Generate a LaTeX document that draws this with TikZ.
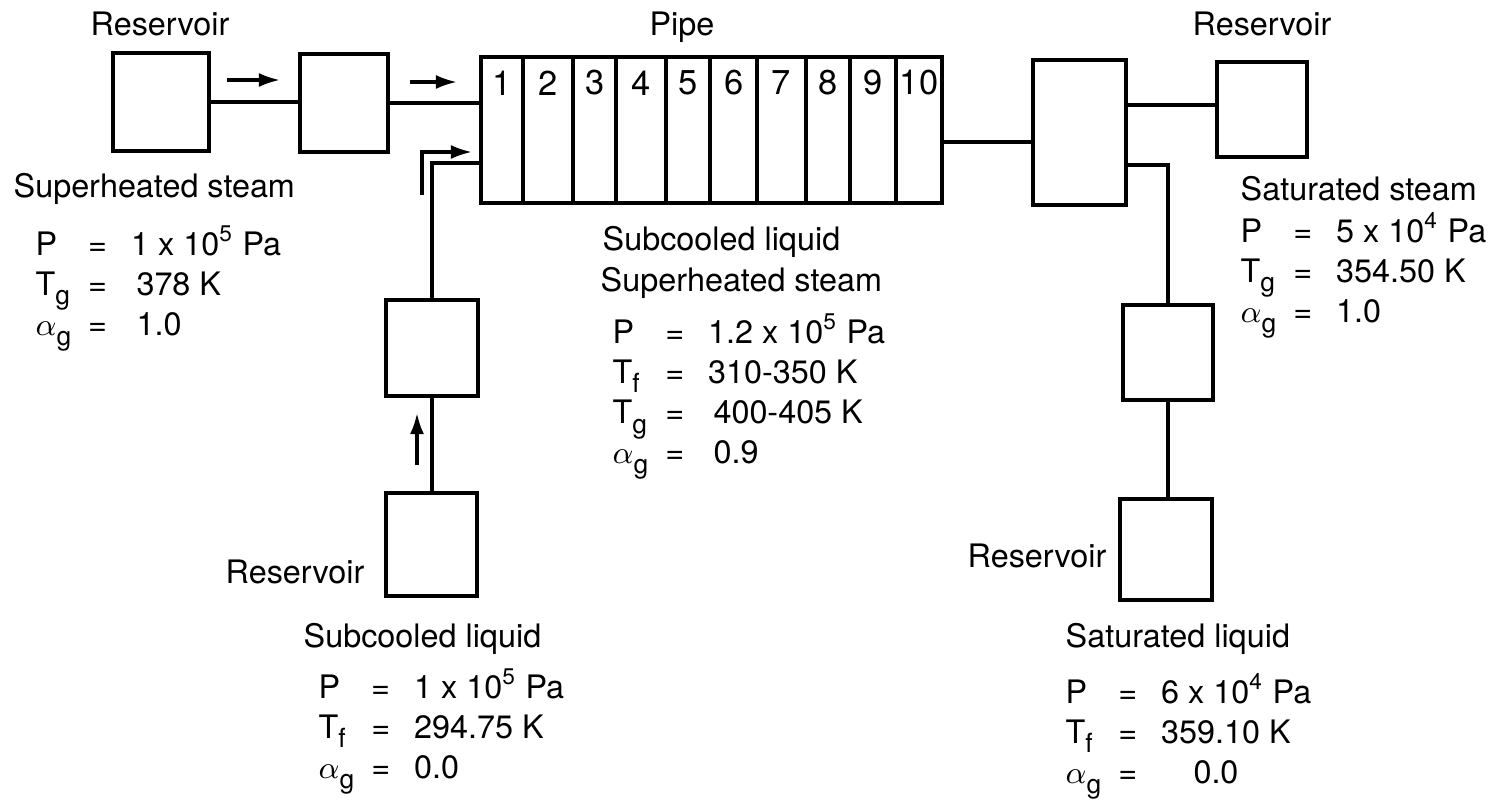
\documentclass[tikz,border=0pt]{standalone}
\usepackage{fontspec}
\setmainfont{TeX Gyre Heros}
\usetikzlibrary{arrows.meta, positioning, calc}
\newcommand{\lowsub}[1]{\smash{\raisebox{-2.8pt}{\fontsize{7.5}{8}\selectfont #1}}}
\newcommand{\ag}{$\alpha$\lowsub{g}}
\newcommand{\statetab}[1]{\begin{tabular}[t]{@{}l@{\hspace{0.17cm}}c@{\hspace{0.24cm}}l@{}}#1\end{tabular}}

\begin{document}
\begin{tikzpicture}[x=0.01cm, y=-0.01cm,
    vessel/.style={draw, line width=1.1pt, inner sep=0pt},
    link/.style={line width=0.9pt},
    wall/.style={line width=0.9pt},
    flow/.style={line width=0.9pt, -{Latex[length=6pt,width=4pt]}},
    txt/.style={inner sep=0pt, font=\fontsize{9.2}{11.4}\selectfont},
    cellnum/.style={inner sep=0pt, font=\fontsize{9.8}{11}\selectfont}]
  \useasboundingbox (0,0) rectangle (1494,803);
  % Volumes and reservoirs
  \node[vessel, minimum width=0.96cm, minimum height=0.98cm] (rsvA) at (161,102) {};
  \node[vessel, minimum width=0.88cm, minimum height=0.98cm] (volA) at (344,103) {};
  \node[vessel, minimum width=4.61cm, minimum height=1.46cm] (pipe) at (711.5,130) {};
  \node[vessel, minimum width=0.93cm, minimum height=1.45cm] (volB) at (1079.5,132.5) {};
  \node[vessel, minimum width=0.90cm, minimum height=0.95cm] (rsvB) at (1262,109.5) {};
  \node[vessel, minimum width=0.90cm, minimum height=0.95cm] (volC) at (1168,352.5) {};
  \node[vessel, minimum width=0.92cm, minimum height=1.01cm] (rsvD) at (1166,549.5) {};
  \node[vessel, minimum width=0.92cm, minimum height=0.96cm] (volL) at (432,348) {};
  \node[vessel, minimum width=0.91cm, minimum height=1.03cm] (rsvL) at (431.5,544.5) {};
  % Pipe cells
  \foreach \xd in {523,573,616,666,710,757,806,850,896}
    \draw[wall] (\xd,0 |- pipe.north) -- (\xd,0 |- pipe.south);
  \foreach \xc [count=\i] in {502,548,595,641,688,734,781,828,873,919}
    \node[cellnum] (cell\i) at (\xc,83) {\i};
  % Junctions
  \draw[link] (rsvA.east) -- (rsvA.east -| volA.west);
  \draw[link] (volA.east) -- (volA.east -| pipe.west);
  \draw[link] (volL.north) |- ([yshift=-0.33cm]pipe.west);
  \draw[link] (volL.south) -- (volL.south |- rsvL.north);
  \draw[link] ([yshift=-0.12cm]pipe.east) -- ([yshift=-0.12cm]pipe.east -| volB.west);
  \draw[link] (volB.east |- 0,105) -- (rsvB.west |- 0,105);
  \draw[link] (volB.east |- 0,165) -| (volC.north);
  \draw[link] (volC.south) -- (volC.south |- rsvD.north);
  % Flow directions
  \draw[flow] (227,80) -- (280,80);
  \draw[flow] (410,82) -- (457,82);
  \draw[flow] (422,195) |- (472,152);
  \draw[flow] (417,465) -- (417,413);
  % Labels
  \node[txt, anchor=base] (lblA) at (160,35) {Reservoir};
  \node[txt, anchor=base] (lblPipe) at (682,35) {Pipe};
  \node[txt, anchor=base] (lblB) at (1262,35) {Reservoir};
  \node[txt, anchor=base east] (lblL) at (365,583) {Reservoir};
  \node[txt, anchor=base east] (lblD) at (1107,567) {Reservoir};
  % Conditions
  \node[txt, anchor=base west] (hA) at (13,197) {Superheated steam};
  \node[txt, anchor=base west] (dA) at (35,255) {\statetab{P & = & 1 x 10\textsuperscript{5} Pa\\ T\lowsub{g} & = & \,378 K\\ \ag & = & \,1.0}};
  \node[txt, anchor=base west] (hP1) at (602,250) {Subcooled liquid};
  \node[txt, anchor=base west] (hP2) at (600,291) {Superheated steam};
  \node[txt, anchor=base west] (dP) at (612,343) {\statetab{P & = & 1.2 x 10\textsuperscript{5} Pa\\ T\lowsub{f} & = & 310-350 K\\ T\lowsub{g} & = & \,400-405 K\\ \ag & = & \,0.9}};
  \node[txt, anchor=base west] (hB) at (1240,200) {Saturated steam};
  \node[txt, anchor=base west] (dB) at (1240,242) {\statetab{P & = & 5 x 10\textsuperscript{4} Pa\\ T\lowsub{g} & = & 354.50 K\\ \ag & = & 1.0}};
  \node[txt, anchor=base west] (hL) at (303,647) {Subcooled liquid};
  \node[txt, anchor=base west] (dL) at (318,698) {\statetab{P & = & 1 x 10\textsuperscript{5} Pa\\ T\lowsub{f} & = & 294.75 K\\ \ag & = & 0.0}};
  \node[txt, anchor=base west] (hD) at (1065,647) {Saturated liquid};
  \node[txt, anchor=base west] (dD) at (1065,703) {\statetab{P & = & 6 x 10\textsuperscript{4} Pa\\ T\lowsub{f} & = & 359.10 K\\ \ag & = & \quad0.0}};
\end{tikzpicture}
\end{document}
